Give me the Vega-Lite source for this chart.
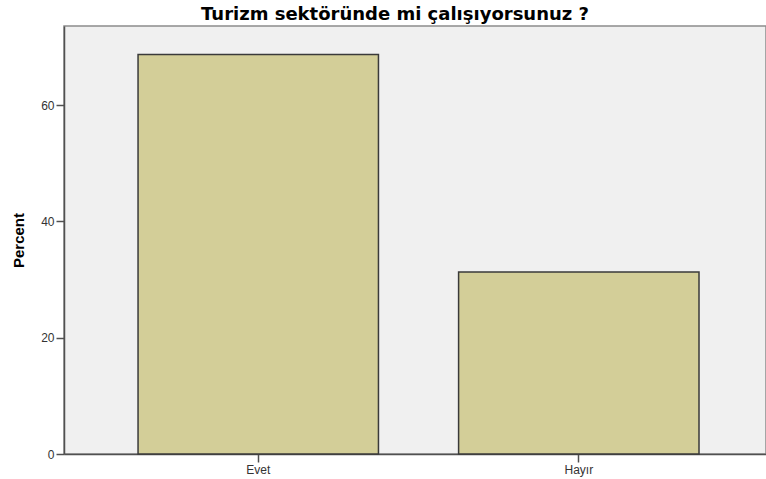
{
  "$schema": "https://vega.github.io/schema/vega-lite/v6.json",
  "width": 702,
  "height": 428,
  "autosize": {"type": "none"},
  "padding": {"left": 64, "top": 26, "right": 0, "bottom": 25},
  "background": "white",
  "title": {
    "text": "Turizm sektöründe mi çalışıyorsunuz ?",
    "font": "DejaVu Sans",
    "fontSize": 18,
    "fontWeight": "bold",
    "color": "#000000",
    "anchor": "middle",
    "dx": -20,
    "offset": 2
  },
  "data": {
    "values": [
      {"category": "Evet", "percent": 68.7},
      {"category": "Hayır", "percent": 31.3}
    ]
  },
  "mark": {"type": "bar", "fill": "#d3ce98", "stroke": "#3a3a3a", "strokeWidth": 1.5},
  "encoding": {
    "x": {
      "field": "category",
      "type": "nominal",
      "sort": null,
      "scale": {"paddingInner": 0.25, "paddingOuter": 0.22, "align": 0.525},
      "axis": {
        "title": null,
        "labelAngle": 0,
        "tickSize": 8,
        "labelPadding": 2
      }
    },
    "y": {
      "field": "percent",
      "type": "quantitative",
      "scale": {"domain": [0, 73.6], "nice": false},
      "axis": {
        "values": [0, 20, 40, 60],
        "title": "Percent",
        "titleFontSize": 15,
        "titleFontWeight": "bold",
        "titleColor": "#000000",
        "titleFont": "Liberation Sans",
        "titlePadding": 14,
        "tickSize": 8,
        "labelPadding": 2
      }
    }
  },
  "config": {
    "view": {"fill": "#f0f0f0", "stroke": "#8c8c8c", "strokeWidth": 1.5},
    "axis": {
      "grid": false,
      "domainColor": "#505050",
      "domainWidth": 1.5,
      "tickColor": "#505050",
      "tickWidth": 1.5,
      "labelFont": "Liberation Sans",
      "labelFontSize": 12,
      "labelColor": "#333333"
    }
  }
}
